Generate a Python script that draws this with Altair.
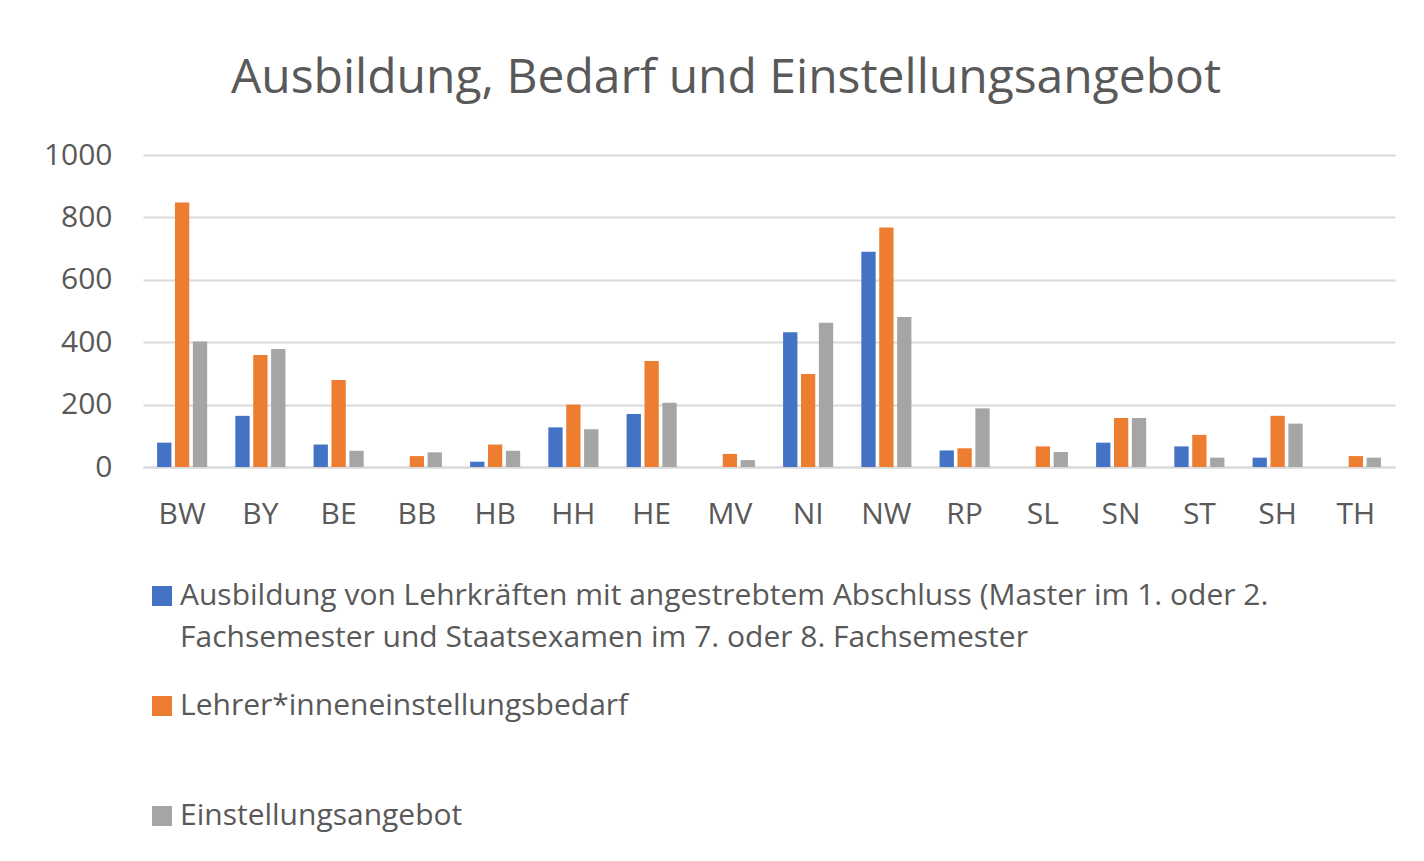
import altair as alt
import pandas as pd

laender = ["BW", "BY", "BE", "BB", "HB", "HH", "HE", "MV", "NI", "NW", "RP", "SL", "SN", "ST", "SH", "TH"]
ausbildung = [78, 164, 72, 0, 17, 127, 170, 0, 432, 690, 53, 0, 78, 66, 30, 0]
bedarf = [848, 359, 279, 35, 72, 200, 340, 42, 298, 768, 60, 66, 157, 103, 164, 35]
angebot = [402, 378, 52, 47, 52, 121, 206, 22, 462, 481, 188, 48, 157, 30, 139, 30]

s1 = "Ausbildung von Lehrkräften mit angestrebtem Abschluss (Master im 1. oder 2. Fachsemester und Staatsexamen im 7. oder 8. Fachsemester"
s2 = "Lehrer*inneneinstellungsbedarf"
s3 = "Einstellungsangebot"
series = [s1, s2, s3]
colors = ["#4472C4", "#ED7D31", "#A5A5A5"]
s1_lines = ["Ausbildung von Lehrkräften mit angestrebtem Abschluss (Master im 1. oder 2.",
            "Fachsemester und Staatsexamen im 7. oder 8. Fachsemester"]

rows = []
for i, land in enumerate(laender):
    for name, vals in zip(series, [ausbildung, bedarf, angebot]):
        rows.append({"Land": land, "Reihe": name, "Wert": vals[i]})
df = pd.DataFrame(rows)

font = "Open Sans"
grey = "#595959"

label_expr = (
    "datum.label == '" + s1 + "' ? ['" + s1_lines[0] + "', '" + s1_lines[1] + "'] : [datum.label, ' ']"
)

chart = alt.Chart(df).mark_bar().encode(
    x=alt.X("Land:N", sort=laender, title=None,
            scale=alt.Scale(paddingInner=0.36, paddingOuter=0.18),
            axis=alt.Axis(labelAngle=0, labelFontSize=30, labelColor=grey, labelFont=font,
                          labelPadding=32, ticks=False, domainColor="#d9d9d9", domainWidth=2)),
    xOffset=alt.XOffset("Reihe:N", sort=series, scale=alt.Scale(paddingInner=0.2)),
    y=alt.Y("Wert:Q", title=None,
            scale=alt.Scale(domain=[0, 1000]),
            axis=alt.Axis(values=[0, 200, 400, 600, 800, 1000], format="d", labelFontSize=30,
                          labelColor=grey, labelFont=font, labelPadding=31, ticks=False,
                          domain=False, gridColor="#d9d9d9", gridWidth=2)),
    color=alt.Color("Reihe:N", sort=series, title=None,
                    scale=alt.Scale(domain=series, range=colors),
                    legend=alt.Legend(orient="none", legendX=4, legendY=426, direction="vertical",
                                      symbolType="square", symbolSize=400, symbolStrokeWidth=0,
                                      labelFontSize=30, labelColor=grey, labelFont=font,
                                      labelLimit=0, labelExpr=label_expr, rowPadding=38,
                                      labelOffset=3)),
).properties(
    width=1252,
    height=312,
    padding={"left": 35, "top": 47, "right": 16, "bottom": 5},
    title=alt.TitleParams("Ausbildung, Bedarf und Einstellungsangebot", fontSize=48,
                          font=font, color=grey, fontWeight="normal", offset=37,
                          frame="group", dx=-43),
).configure(
    view=alt.ViewConfig(stroke="transparent"),
    style={"guide-label": {"lineHeight": 42}},
)

chart.save("out.html", embed_options={"renderer": "svg", "actions": False})
